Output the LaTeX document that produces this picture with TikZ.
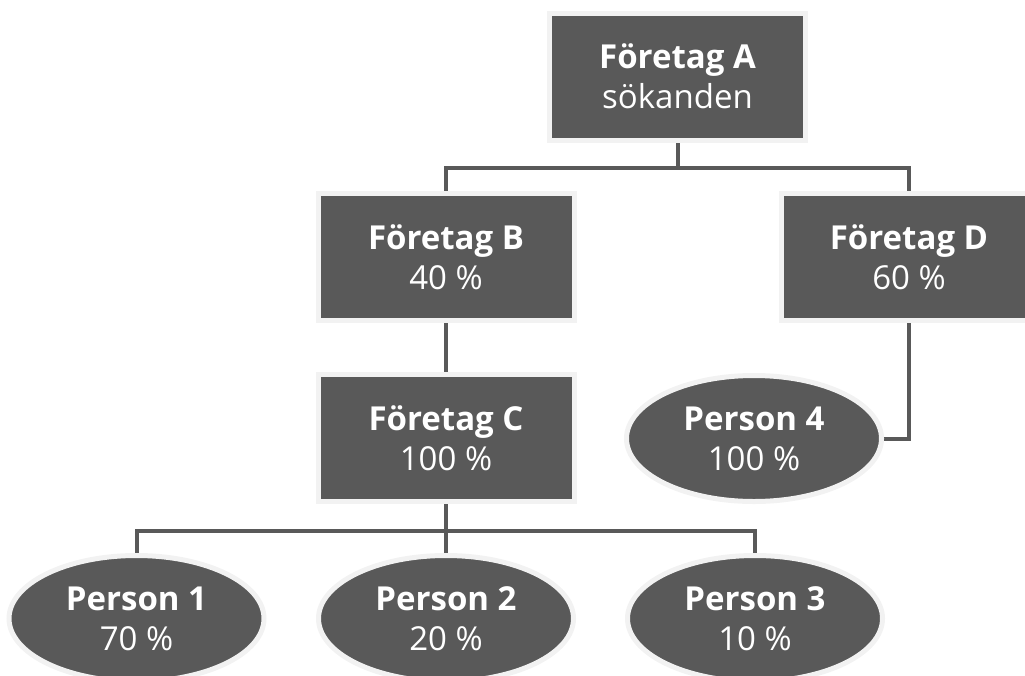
\documentclass[tikz,border=0pt]{standalone}
\usepackage{fontspec}
\setmainfont{Open Sans}
\usetikzlibrary{shapes.geometric,backgrounds}
\definecolor{boxfill}{HTML}{595959}
\definecolor{boxrim}{HTML}{F2F2F2}
\definecolor{linkcol}{HTML}{595959}
\tikzset{
  orgbox/.style={rectangle, draw=boxrim, line width=5pt, fill=boxfill,
    minimum width=256pt, minimum height=127pt, inner sep=0pt,
    text=white, align=center, font=\fontsize{33}{40}\selectfont},
  personell/.style={ellipse, draw=boxrim, line width=5pt, fill=boxfill,
    minimum width=255pt, minimum height=126pt, inner sep=0pt,
    text=white, align=center, font=\fontsize{33}{40}\selectfont},
  link/.style={draw=linkcol, line width=4pt}
}
\begin{document}
\begin{tikzpicture}[x=1pt,y=-1pt]
\useasboundingbox (0,0) rectangle (1025,675);
\node[orgbox] (A) at (677.5,76.5) {\textbf{Företag A}\\sökanden};
\node[orgbox] (B) at (446,257) {\textbf{Företag B}\\40 \%};
\node[orgbox] (D) at (909,257) {\textbf{Företag D}\\60 \%};
\node[orgbox] (C) at (446,438) {\textbf{Företag C}\\100 \%};
\node[personell] (P4) at (754,438.5) {\textbf{Person 4}\\100 \%};
\node[personell] (P1) at (136.5,618.5) {\textbf{Person 1}\\70 \%};
\node[personell] (P2) at (446,618.5) {\textbf{Person 2}\\20 \%};
\node[personell] (P3) at (755,618.5) {\textbf{Person 3}\\10 \%};
\begin{pgfonlayer}{background}
\draw[link] (A.south) -- ++(0,25) -| (B.north);
\draw[link] (A.south) -- ++(0,25) -| (D.north);
\draw[link] (B.south) -- (C.north);
\draw[link] (D.south) |- (P4.east);
\draw[link] (C.south) -- ++(0,27) -| (P1.north);
\draw[link] (C.south) -- ++(0,27) -| (P3.north);
\draw[link] (C.south) -- (P2.north);
\end{pgfonlayer}
\end{tikzpicture}
\end{document}
